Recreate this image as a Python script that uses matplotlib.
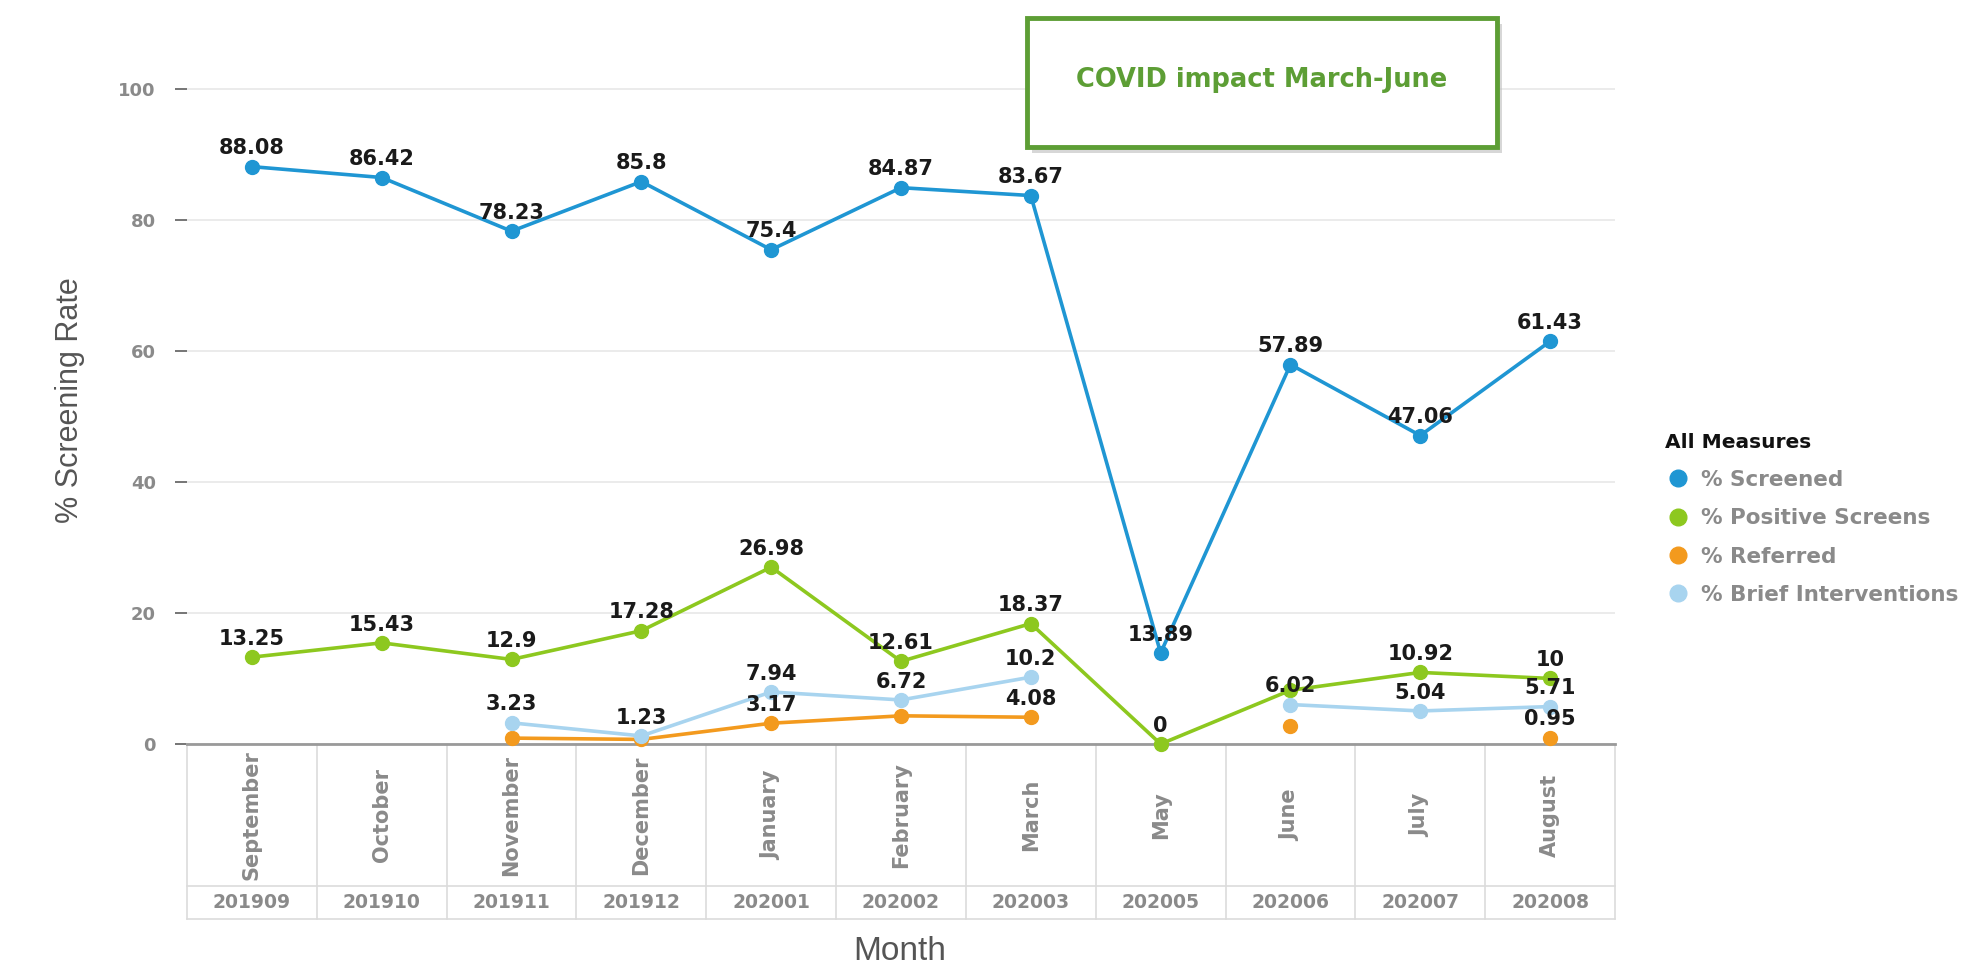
import numpy as np
import matplotlib
matplotlib.use('Agg')
import matplotlib.pyplot as plt
from matplotlib.lines import Line2D
from matplotlib.patches import Rectangle

plt.rcParams['font.family'] = ['DejaVu Sans']

months = ['September', 'October', 'November', 'December', 'January', 'February',
          'March', 'May', 'June', 'July', 'August']
periods = ['201909', '201910', '201911', '201912', '202001', '202002',
           '202003', '202005', '202006', '202007', '202008']

nan = np.nan
screened = [88.08, 86.42, 78.23, 85.8, 75.4, 84.87, 83.67, 13.89, 57.89, 47.06, 61.43]
positive = [13.25, 15.43, 12.9, 17.28, 26.98, 12.61, 18.37, 0, 8.2, 10.92, 10]
referred = [nan, nan, 0.9, 0.7, 3.17, 4.3, 4.08, nan, 2.8, nan, 0.95]
brief = [nan, nan, 3.23, 1.23, 7.94, 6.72, 10.2, nan, 6.02, 5.04, 5.71]

# which value labels are visible in the original (others are hidden behind marks)
show_screened = [True] * 11
show_positive = [True, True, True, True, True, True, True, True, False, True, True]
show_referred = [False, False, False, False, True, False, True, False, False, False, True]
show_brief = [False, False, True, True, True, True, True, False, True, True, True]

series = [
    ('% Screened', screened, show_screened, '#1f96d3'),
    ('% Positive Screens', positive, show_positive, '#8dc81f'),
    ('% Referred', referred, show_referred, '#f39a1e'),
    ('% Brief Interventions', brief, show_brief, '#a8d4ef'),
]

W, H = 1984, 964
fig = plt.figure(figsize=(W / 100, H / 100), dpi=100)

# axes box in pixels: left 187, right 1615, y=0 at 744, top at 62
ax_l, ax_r, ax_b, ax_t = 187, 1615, 744, 62
ax = fig.add_axes([ax_l / W, 1 - ax_b / H, (ax_r - ax_l) / W, (ax_b - ax_t) / H])

x = np.arange(len(months))
draw_order = [2, 3, 1, 0]
for i in draw_order:
    name, vals, show, col = series[i]
    ax.plot(x, vals, color=col, linewidth=2.6, marker='o', markersize=10,
            clip_on=False, zorder=3 + i * 0.1)

for name, vals, show, col in series:
    for xi, v, s in zip(x, vals, show):
        if s and not np.isnan(v):
            ax.annotate(f'{v:g}', (xi, v), xytext=(0, 6), textcoords='offset points',
                        ha='center', va='bottom', fontsize=15, fontweight='bold',
                        color='#1a1a1a', zorder=6)

ax.set_xlim(-0.5, len(months) - 0.5)
ax.set_ylim(0, (ax_b - ax_t) / 6.555)
ax.set_yticks([0, 20, 40, 60, 80, 100])
ax.set_yticklabels(['0', '20', '40', '60', '80', '100'], fontsize=13,
                   fontweight='bold', color='#8a8a8a')
ax.tick_params(axis='y', length=9, width=1.3, color='#6a6a6a', pad=13.5)
ax.set_xticks([])
ax.grid(axis='y', color='#e8e8e8', linewidth=1.2)
ax.set_axisbelow(True)
for sp in ['top', 'right', 'left']:
    ax.spines[sp].set_visible(False)
ax.spines['bottom'].set_color('#9a9a9a')
ax.spines['bottom'].set_linewidth(2)

# category table under the axis
h_ax = ax_b - ax_t
y_top = 0
y_mid = -(888 - 746) / h_ax
y_bot = -(921 - 746) / h_ax
tr = ax.get_xaxis_transform()
grid_col = '#dcdcdc'
for yy in [y_mid, y_bot]:
    ax.plot([-0.5, len(months) - 0.5], [yy, yy], color=grid_col, lw=1.2,
            transform=tr, clip_on=False)
for k in range(len(months) + 1):
    ax.plot([k - 0.5, k - 0.5], [y_top, y_bot], color=grid_col, lw=1.2,
            transform=tr, clip_on=False)
for xi, m, p in zip(x, months, periods):
    ax.text(xi, (y_top + y_mid) / 2, m, rotation=90, ha='center', va='center',
            fontsize=15, fontweight='bold', color='#8a8a8a', transform=tr)
    ax.text(xi, (y_mid + y_bot) / 2, p, ha='center', va='center',
            fontsize=13.5, fontweight='bold', color='#8a8a8a', transform=tr)

fig.text(900 / W, 1 - 951 / H, 'Month', ha='center', va='center',
         fontsize=24, color='#555555', family=['Liberation Sans Narrow', 'Liberation Sans'])
fig.text(70 / W, 1 - 400 / H, '% Screening Rate', ha='center', va='center',
         rotation=90, fontsize=22, color='#555555',
         family=['Liberation Sans Narrow', 'Liberation Sans'])

# legend
handles = [Line2D([], [], marker='o', linestyle='none', markersize=12,
                  markerfacecolor=c, markeredgecolor=c) for _, _, _, c in series]
leg = fig.legend(handles, [s[0] for s in series], title='All Measures',
                 loc='upper left', bbox_to_anchor=(1656 / W, 1 - 424 / H),
                 frameon=False, alignment='left', fontsize=15.5,
                 handletextpad=0.5, labelspacing=0.85, borderaxespad=0,
                 handlelength=1.2)
leg.get_title().set_fontweight('bold')
leg.get_title().set_fontsize(14.5)
leg.get_title().set_color('#111111')
for t in leg.get_texts():
    t.set_color('#8a8a8a')
    t.set_fontweight('bold')

# COVID annotation box
bx0, by0, bx1, by1 = 1027, 18, 1497, 147
fig.patches.append(Rectangle(((bx0 + 5) / W, 1 - (by1 + 6) / H), (bx1 - bx0) / W,
                             (by1 - by0) / H, transform=fig.transFigure,
                             facecolor='#bdbdbd', edgecolor='none', alpha=0.6, zorder=9))
fig.patches.append(Rectangle((bx0 / W, 1 - by1 / H), (bx1 - bx0) / W, (by1 - by0) / H,
                             transform=fig.transFigure, facecolor='white',
                             edgecolor='#5d9e35', linewidth=3.5, zorder=10))
fig.text((bx0 + bx1) / 2 / W, 1 - 80 / H, 'COVID impact March-June', ha='center',
         va='center', fontsize=18.5, fontweight='bold', color='#5d9e35', zorder=11)

fig.savefig('out.png', dpi=100)
